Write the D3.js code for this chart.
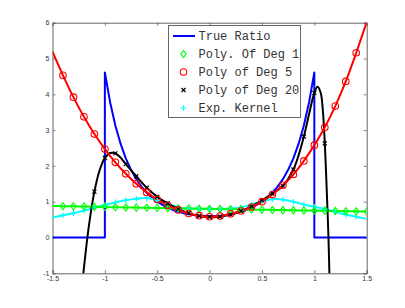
<!DOCTYPE html>
<html><head><meta charset="utf-8">
<script src="https://cdn.jsdelivr.net/npm/d3@7"></script>
<style>body{margin:0;background:#fff}svg{display:block}</style>
</head><body>
<svg id="c" width="405" height="308"></svg>
<script>
// ---- data ----
const xTicks = [-1.5, -1, -0.5, 0, 0.5, 1, 1.5];
const xTickLabels = ["-1.5", "-1", "-0.5", "0", "0.5", "1", "1.5"];
const yTicks = [-1, 0, 1, 2, 3, 4, 5, 6];
const yTickLabels = ["-1", "0", "1", "2", "3", "4", "5", "6"];

const legendLabels = ["True Ratio", "Poly. Of Deg 1", "Poly of Deg 5", "Poly of Deg 20", "Exp. Kernel"];

// True ratio (0 outside [-1,1])
const trueX = [-1.5, -1, -1, -0.95, -0.9, -0.85, -0.8, -0.75, -0.7, -0.65, -0.6, -0.55, -0.5, -0.45, -0.4, -0.35, -0.3, -0.25, -0.2, -0.15, -0.1, -0.05, 0,
  0.05, 0.1, 0.15, 0.2, 0.25, 0.3, 0.35, 0.4, 0.45, 0.5, 0.55, 0.6, 0.65, 0.7, 0.75, 0.8, 0.85, 0.9, 0.95, 1, 1, 1.5];
const trueY = [0, 0, 4.61, 3.78, 3.13, 2.62, 2.21, 1.89, 1.63, 1.42, 1.25, 1.11, 1.0, 0.91, 0.83, 0.77, 0.72, 0.68, 0.65, 0.63, 0.61, 0.60, 0.60,
  0.60, 0.61, 0.63, 0.65, 0.68, 0.72, 0.77, 0.83, 0.91, 1.0, 1.11, 1.25, 1.42, 1.63, 1.89, 2.21, 2.62, 3.13, 3.78, 4.61, 0, 0];

// Poly of degree 1
const deg1X = [-1.5, -1.4, -1.3, -1.2, -1.1, -1.0, -0.9, -0.8, -0.7, -0.6, -0.5, -0.4, -0.3, -0.2, -0.1, 0, 0.1, 0.2, 0.3, 0.4, 0.5, 0.6, 0.7, 0.8, 0.9, 1.0, 1.1, 1.2, 1.3, 1.4, 1.5];
const deg1Y = [0.88, 0.875, 0.87, 0.865, 0.86, 0.85, 0.845, 0.84, 0.835, 0.83, 0.825, 0.82, 0.815, 0.81, 0.805, 0.80, 0.795, 0.79, 0.785, 0.78, 0.775, 0.77, 0.765, 0.76, 0.755, 0.75, 0.745, 0.74, 0.735, 0.73, 0.725];

// Poly of degree 5
const deg5X = [-1.5, -1.4, -1.3, -1.2, -1.1, -1.0, -0.9, -0.8, -0.7, -0.6, -0.5, -0.4, -0.3, -0.2, -0.1, 0, 0.1, 0.2, 0.3, 0.4, 0.5, 0.6, 0.7, 0.8, 0.9, 1.0, 1.1, 1.2, 1.3, 1.4, 1.5];
const deg5Y = [5.19, 4.53, 3.92, 3.37, 2.89, 2.47, 2.10, 1.78, 1.50, 1.26, 1.06, 0.90, 0.77, 0.67, 0.61, 0.58, 0.60, 0.66, 0.74, 0.85, 1.00, 1.20, 1.46, 1.76, 2.14, 2.58, 3.08, 3.67, 4.36, 5.16, 6.02];

// Poly of degree 20
const deg20X = [-1.25, -1.2, -1.15, -1.1, -1.05, -1.0, -0.95, -0.9, -0.85, -0.8, -0.7, -0.6, -0.5, -0.4, -0.3, -0.2, -0.1, 0, 0.1, 0.2, 0.3, 0.4, 0.5, 0.6, 0.7, 0.8, 0.85, 0.9, 0.95, 1.0, 1.03, 1.06, 1.08, 1.1, 1.12, 1.135, 1.15];
const deg20Y = [-2.3, -0.85, 0.38, 1.28, 1.88, 2.22, 2.36, 2.35, 2.23, 2.05, 1.71, 1.39, 1.14, 0.95, 0.80, 0.68, 0.60, 0.57, 0.58, 0.64, 0.74, 0.87, 1.04, 1.23, 1.44, 1.90, 2.30, 2.82, 3.45, 4.04, 4.21, 4.05, 3.6, 2.63, 1.2, 0, -1.8];
const deg20MarkX = [-1.1, -1.0, -0.9, -0.8, -0.7, -0.6, -0.5, -0.4, -0.3, -0.2, -0.1, 0, 0.1, 0.2, 0.3, 0.4, 0.5, 0.6, 0.7, 0.8, 0.9, 1.0, 1.1];

// Exp. kernel
const kernX = [-1.5, -1.4, -1.3, -1.2, -1.1, -1.0, -0.9, -0.8, -0.7, -0.6, -0.5, -0.4, -0.3, -0.2, -0.1, 0, 0.1, 0.2, 0.3, 0.4, 0.5, 0.6, 0.7, 0.8, 0.9, 1.0, 1.1, 1.2, 1.3, 1.4, 1.5];
const kernY = [0.56, 0.62, 0.68, 0.75, 0.83, 0.91, 0.98, 1.04, 1.08, 1.10, 1.03, 0.94, 0.84, 0.81, 0.80, 0.80, 0.80, 0.81, 0.84, 0.92, 1.01, 1.07, 1.06, 1.00, 0.92, 0.86, 0.80, 0.72, 0.64, 0.58, 0.52];

// ---- drawing ----
const svg = d3.select("#c");
const L = 52.5, R = 366.7, T = 22.7, B = 273.3;
const x = d3.scaleLinear().domain([-1.5, 1.5]).range([L, R]);
const y = d3.scaleLinear().domain([-1, 6]).range([B, T]);

svg.append("defs").append("clipPath").attr("id", "clip")
  .append("rect").attr("x", L).attr("y", T).attr("width", R - L).attr("height", B - T);

const axisColor = "#666";
const fmtX = (d, i) => xTickLabels[i];
const fmtY = (d, i) => yTickLabels[i];

const gB = svg.append("g").attr("transform", `translate(0,${B})`)
  .call(d3.axisBottom(x).tickValues(xTicks).tickFormat(fmtX).tickSize(-3).tickPadding(3));
const gT = svg.append("g").attr("transform", `translate(0,${T})`)
  .call(d3.axisTop(x).tickValues(xTicks).tickFormat("").tickSize(-3));
const gL = svg.append("g").attr("transform", `translate(${L},0)`)
  .call(d3.axisLeft(y).tickValues(yTicks).tickFormat(fmtY).tickSize(-3).tickPadding(3));
const gR = svg.append("g").attr("transform", `translate(${R},0)`)
  .call(d3.axisRight(y).tickValues(yTicks).tickFormat("").tickSize(-3));
[gB, gT, gL, gR].forEach(g => {
  g.select(".domain").attr("stroke", axisColor).attr("stroke-width", 1);
  g.selectAll(".tick line").attr("stroke", axisColor).attr("stroke-width", 0.8);
  g.selectAll(".tick text").attr("fill", "#333").style("font-family", "Liberation Sans, Arial, sans-serif").style("font-size", "7px");
});

const plot = svg.append("g").attr("clip-path", "url(#clip)");

function pts(xs, ys) { return xs.map((v, i) => [v, ys[i]]); }
const lineLin = d3.line().x(d => x(d[0])).y(d => y(d[1]));
const lineSm = d3.line().x(d => x(d[0])).y(d => y(d[1])).curve(d3.curveCatmullRom.alpha(0.5));

// True ratio
plot.append("path").attr("d", lineLin(pts(trueX, trueY)))
  .attr("fill", "none").attr("stroke", "#0000ff").attr("stroke-width", 2).attr("stroke-linejoin", "round");

// Kernel
plot.append("path").attr("d", lineSm(pts(kernX, kernY)))
  .attr("fill", "none").attr("stroke", "#00ffff").attr("stroke-width", 2);

// Deg 1
plot.append("path").attr("d", lineSm(pts(deg1X, deg1Y)))
  .attr("fill", "none").attr("stroke", "#00ff00").attr("stroke-width", 2);

// Deg 20
plot.append("path").attr("d", lineSm(pts(deg20X, deg20Y)))
  .attr("fill", "none").attr("stroke", "#000").attr("stroke-width", 2);

// Deg 5
plot.append("path").attr("d", lineSm(pts(deg5X, deg5Y)))
  .attr("fill", "none").attr("stroke", "#ff0000").attr("stroke-width", 2);

// markers
const diamond = (cx, cy) => `M${cx},${cy - 3.6}L${cx + 2.6},${cy}L${cx},${cy + 3.6}L${cx - 2.6},${cy}Z`;
const cross = (cx, cy, s) => `M${cx - s},${cy - s}L${cx + s},${cy + s}M${cx - s},${cy + s}L${cx + s},${cy - s}`;
const plus = (cx, cy, s) => `M${cx - s},${cy}L${cx + s},${cy}M${cx},${cy - s}L${cx},${cy + s}`;

const mk = svg.append("g").attr("clip-path", "url(#clip)");
// kernel markers
mk.selectAll(".kp").data(pts(kernX, kernY).filter(d => d[0] > -1.45 && d[0] < 1.45)).join("path")
  .attr("d", d => plus(x(d[0]), y(d[1]), 2.8)).attr("stroke", "#00ffff").attr("stroke-width", 1.2).attr("fill", "none");
// deg1 markers
mk.selectAll(".g1").data(pts(deg1X, deg1Y).filter(d => d[0] > -1.45)).join("path")
  .attr("d", d => diamond(x(d[0]), y(d[1]))).attr("stroke", "#00ff00").attr("stroke-width", 1.1).attr("fill", "none");
// deg20 markers
const d20m = deg20MarkX.map(v => [v, deg20Y[deg20X.findIndex(u => Math.abs(u - v) < 1e-9)]]);
mk.selectAll(".b20").data(d20m).join("path")
  .attr("d", d => cross(x(d[0]), y(d[1]), 2)).attr("stroke", "#000").attr("stroke-width", 1.2).attr("fill", "none");
// deg5 markers
mk.selectAll(".r5").data(pts(deg5X, deg5Y).filter(d => d[0] > -1.45 && d[0] < 1.45)).join("circle")
  .attr("cx", d => x(d[0])).attr("cy", d => y(d[1])).attr("r", 3.3)
  .attr("stroke", "#ff0000").attr("stroke-width", 1.1).attr("fill", "none");

// ---- legend ----
const lg = svg.append("g");
lg.append("rect").attr("x", 168.5).attr("y", 25.5).attr("width", 132).attr("height", 92)
  .attr("fill", "#fff").attr("stroke", axisColor).attr("stroke-width", 1);
const ly = i => 36 + i * 18;
const mx = 183.5;
lg.append("line").attr("x1", 173).attr("x2", 195).attr("y1", ly(0)).attr("y2", ly(0))
  .attr("stroke", "#0000ff").attr("stroke-width", 2);
lg.append("path").attr("d", diamond(mx, ly(1))).attr("stroke", "#00ff00").attr("stroke-width", 1.1).attr("fill", "none");
lg.append("circle").attr("cx", mx).attr("cy", ly(2)).attr("r", 3.3).attr("stroke", "#ff0000").attr("stroke-width", 1.1).attr("fill", "none");
lg.append("path").attr("d", cross(mx, ly(3), 2)).attr("stroke", "#000").attr("stroke-width", 1.2);
lg.append("path").attr("d", plus(mx, ly(4), 2.8)).attr("stroke", "#00ffff").attr("stroke-width", 1.2);
lg.selectAll("text.lt").data(legendLabels).join("text")
  .attr("x", 198.5).attr("y", (d, i) => ly(i) + 4)
  .attr("fill", "#333")
  .style("font-family", "Liberation Mono, Courier New, monospace").style("font-size", "12px")
  .text(d => d);
</script>
</body></html>
